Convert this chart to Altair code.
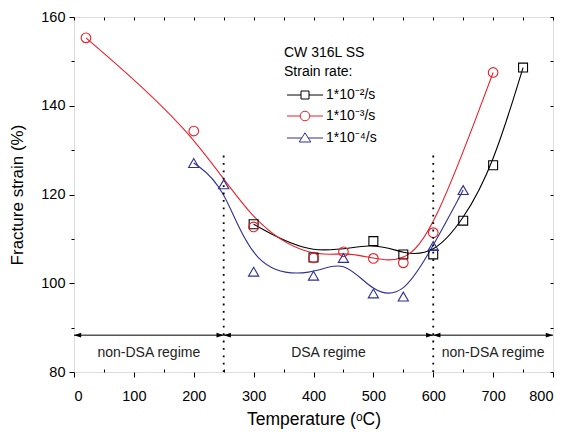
import altair as alt
import pandas as pd

# ---------------- data ----------------
series_names = ["1*10⁻²/s", "1*10⁻³/s", "1*10⁻⁴/s"]
series_colors = ["#000000", "#e8202a", "#2e3192"]

temp_1e2 = [300, 400, 500, 550, 600, 650, 700, 750]
strain_1e2 = [113.3, 105.8, 109.5, 106.5, 106.5, 114.1, 126.6, 148.6]

temp_1e3 = [20, 200, 300, 400, 450, 500, 550, 600, 700]
strain_1e3 = [155.3, 134.3, 112.7, 105.7, 107.1, 105.6, 104.6, 111.4, 147.5]

temp_1e4 = [200, 250, 300, 400, 450, 500, 550, 600, 650]
strain_1e4 = [127.1, 122.3, 102.6, 101.7, 105.7, 97.7, 97.0, 108.4, 121.0]

regime_bounds = [0, 250, 600, 800]
regime_labels = ["non-DSA regime", "DSA regime", "non-DSA regime"]

x_major = [0, 100, 200, 300, 400, 500, 600, 700, 800]
x_minor = [50, 150, 250, 350, 450, 550, 650, 750]
x_top = [0, 50, 100, 150, 200, 250, 300, 350, 400, 450, 500, 550, 600, 650, 700, 750, 800]
y_major = [80, 100, 120, 140, 160]
y_minor = [90, 110, 130, 150]
y_right = [80, 90, 100, 110, 120, 130, 140, 150, 160]

rows = []
for name, ts, ss in zip(series_names, [temp_1e2, temp_1e3, temp_1e4],
                        [strain_1e2, strain_1e3, strain_1e4]):
    for t, s in zip(ts, ss):
        rows.append({"T": t, "strain": s, "series": name})
df = pd.DataFrame(rows)

seg = pd.DataFrame({"start": regime_bounds[:-1], "end": regime_bounds[1:], "label": regime_labels})
seg["mid"] = (seg["start"] + seg["end"]) / 2
bounds_df = pd.DataFrame({"T": regime_bounds[1:-1]})

# ---------------- styling ----------------
FONT = "Liberation Sans"
ARROW_Y = 88.3
LABEL_Y = 83.4
DOT_TOP = 129

x_scale = alt.Scale(domain=[0, 800], nice=False, zero=False)
y_scale = alt.Scale(domain=[80, 160], nice=False, zero=False)
color_scale = alt.Scale(domain=series_names, range=series_colors)
shape_scale = alt.Scale(domain=series_names, range=["square", "circle", "triangle-up"])
size_scale = alt.Scale(domain=series_names, range=[80, 105, 165])
legend_shape_scale = alt.Scale(domain=series_names, range=[
    "M-1,0H2.5M4.5,0H8M2.5,-1H4.5V1H2.5Z",
    "M-1,0H2.3M4.7,0H8M4.7,0A1.2,1.2,0,1,1,2.3,0A1.2,1.2,0,1,1,4.7,0Z",
    "M-1,0H2.68M4.32,0H8M3.5,-1.3L4.95,1L2.05,1Z",
])

common_axis = dict(domain=False, grid=False, tickColor="black", labelColor="black",
                   labelFont=FONT, titleFont=FONT, titleColor="black", titleFontWeight="normal")

ax_bottom = alt.Axis(values=x_major, tickSize=5, labelFontSize=14.5, labelPadding=12,
                     title="Temperature (ᵒC)", titleFontSize=17.5, titlePadding=8,
                     format="d", orient="bottom", **common_axis)
ax_bottom_minor = alt.Axis(values=x_minor, tickSize=3, labels=False, title=None,
                           orient="bottom", offset=-3, **common_axis)
ax_top = alt.Axis(values=x_top, tickSize=3, labels=False, title=None,
                  orient="top", offset=-3, **common_axis)
ax_left = alt.Axis(values=y_major, tickSize=5, labelFontSize=14.5, labelPadding=4,
                   title="Fracture strain (%)", titleFontSize=17, titlePadding=14,
                   format="d", orient="left", **common_axis)
ax_left_minor = alt.Axis(values=y_minor, tickSize=3, labels=False, title=None,
                         orient="left", **common_axis)
ax_right = alt.Axis(values=y_right, tickSize=3, labels=False, title=None,
                    orient="right", offset=-3, **common_axis)

legend = alt.Legend(
    title=["CW 316L SS", "Strain rate:"], orient="none", legendX=210, legendY=29,
    titleFont=FONT, titleFontSize=14, titleFontWeight="normal", titleColor="black",
    titleLineHeight=19, titlePadding=9, titleAnchor="start",
    labelFont=FONT, labelFontSize=14, labelColor="black", labelOffset=28,
    symbolSize=64, symbolStrokeWidth=1, symbolOpacity=1, rowPadding=7, padding=0,
)


def X(field, axis):
    return alt.X(field, type="quantitative", scale=x_scale, axis=axis)


def Y(field, axis):
    return alt.Y(field, type="quantitative", scale=y_scale, axis=axis)


def Yd(value, axis=None):
    return alt.YDatum(value, type="quantitative", scale=y_scale, axis=axis)


lines = alt.Chart(df).mark_line(interpolate="basis", strokeWidth=1.1).encode(
    x=X("T", ax_bottom), y=Y("strain", ax_left),
    color=alt.Color("series:N", scale=color_scale, legend=None),
)

points = alt.Chart(df).mark_point(filled=False, strokeWidth=1.1, opacity=1).encode(
    x=X("T", ax_bottom_minor), y=Y("strain", ax_left_minor),
    color=alt.Color("series:N", scale=color_scale, legend=None),
    shape=alt.Shape("series:N", scale=shape_scale, legend=None),
    size=alt.Size("series:N", scale=size_scale, legend=None),
)

legend_layer = alt.Chart(df).mark_point(filled=False, opacity=0).encode(
    x=X("T", None), y=Y("strain", None),
    color=alt.Color("series:N", scale=color_scale, legend=legend),
    shape=alt.Shape("series:N", scale=legend_shape_scale, legend=legend),
)

dotted = alt.Chart(bounds_df).mark_rule(color="black", strokeWidth=1.8, strokeDash=[1.8, 5.6]).encode(
    x=X("T", ax_top), y=Yd(80, ax_right), y2=alt.Y2Datum(DOT_TOP),
)

arrows = alt.Chart(seg).mark_rule(color="black", strokeWidth=1).encode(
    x=X("start", None), x2="end", y=Yd(ARROW_Y),
)
heads_left = alt.Chart(seg).mark_point(
    shape="M0,0L2.4,-0.8L2.4,0.8Z", filled=True, size=36, color="black", opacity=1
).encode(x=X("start", None), y=Yd(ARROW_Y))
heads_right = alt.Chart(seg).mark_point(
    shape="M0,0L-2.4,-0.8L-2.4,0.8Z", filled=True, size=36, color="black", opacity=1
).encode(x=X("end", None), y=Yd(ARROW_Y))

labels = alt.Chart(seg).mark_text(
    font=FONT, fontSize=14, color="#222222", align="center", baseline="alphabetic"
).encode(x=X("mid", None), y=Yd(LABEL_Y), text="label:N")

chart = alt.layer(
    lines, points, legend_layer, dotted, arrows, heads_left, heads_right, labels
).resolve_scale(
    color="independent", shape="independent"
).resolve_axis(
    x="independent", y="independent"
).properties(
    width=479, height=355,
    autosize=alt.AutoSizeParams(type="none"),
    padding={"left": 66, "top": 9, "right": 6, "bottom": 60},
).configure_view(
    stroke="black", strokeWidth=1
).configure(font=FONT, background="white")

chart.save("out.html", embed_options={"renderer": "svg", "actions": False})
